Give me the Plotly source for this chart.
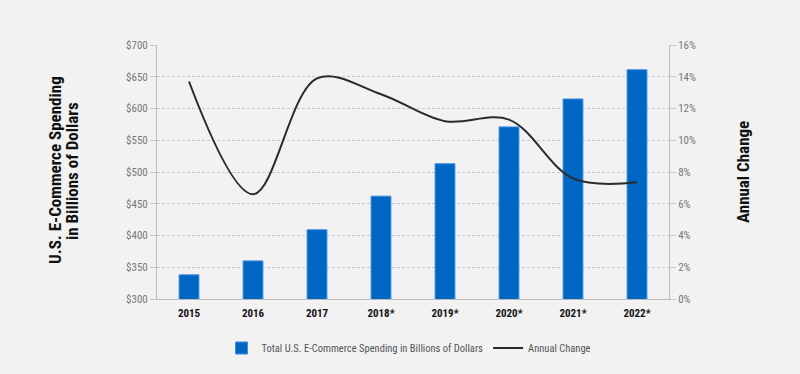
import plotly.graph_objects as go

years = ["2015", "2016", "2017", "2018*", "2019*", "2020*", "2021*", "2022*"]
spending = [338, 360, 409, 462, 513, 571, 615, 661]
annual_change = [13.7, 6.6, 13.9, 12.9, 11.2, 11.3, 7.6, 7.35]

bar_name = "Total U.S. E-Commerce Spending in Billions of Dollars"
line_name = "Annual Change"
left_title_lines = ["U.S. E-Commerce Spending", "in Billions of Dollars"]
right_title = "Annual Change"

FONT = "Roboto Condensed, Liberation Sans Narrow, Roboto, sans-serif"

fig = go.Figure()
fig.add_trace(go.Bar(
    x=years, y=spending, name=bar_name,
    marker=dict(color="#0066C4", line=dict(color="#3a8ee0", width=1)),
    width=0.31, yaxis="y",
))
fig.add_trace(go.Scatter(
    x=years, y=annual_change, name=line_name, mode="lines",
    line=dict(color="#2b2b2b", width=2, shape="spline", smoothing=1.0),
    yaxis="y2",
))

L, R, T, B = 157, 131, 45, 75
W, H = 800, 374
plot_w = W - L - R
plot_h = H - T - B

def px_to_paper(px, py):
    return (px - L) / plot_w, (H - B - py) / plot_h

a1x, a1y = px_to_paper(55, 170)
a2x, a2y = px_to_paper(72, 171)
bx, by = px_to_paper(743, 172)
lx, ly = px_to_paper(409, 348)

title_font = dict(family=FONT, size=17, color="#111111", weight="bold")
tickfont = dict(family=FONT, size=11, color="#777777")
fig.update_layout(
    width=W, height=H,
    paper_bgcolor="#f2f2f2", plot_bgcolor="#f2f2f2",
    margin=dict(l=L, r=R, t=T, b=B),
    bargap=0.69,
    showlegend=True,
    legend=dict(orientation="h", x=lx, xanchor="center", y=ly, yanchor="middle",
                font=dict(family=FONT, size=10.5, color="#555555"),
                bgcolor="rgba(0,0,0,0)", itemwidth=30),
    xaxis=dict(
        showgrid=False, showline=True, linecolor="#bbbbbb", linewidth=1,
        tickfont=dict(family=FONT, size=11, color="#111111", weight="bold"),
        ticks="outside", ticklen=4, tickcolor="rgba(0,0,0,0)", fixedrange=True,
    ),
    yaxis=dict(
        range=[300, 700], dtick=50, tickprefix="$",
        showgrid=True, gridcolor="#c8c8c8", griddash="3px,2px", gridwidth=1,
        showline=True, linecolor="#bbbbbb", linewidth=1,
        ticks="outside", ticklen=6, tickcolor="#c8c8c8",
        tickfont=tickfont, zeroline=False,
    ),
    yaxis2=dict(
        range=[0, 16], dtick=2, ticksuffix="%", overlaying="y", side="right",
        showgrid=False, showline=True, linecolor="#bbbbbb", linewidth=1,
        ticks="outside", ticklen=6, tickcolor="#c8c8c8",
        tickfont=tickfont, zeroline=False,
    ),
    annotations=[
        dict(text=left_title_lines[0], x=a1x, y=a1y, xref="paper", yref="paper",
             xanchor="center", yanchor="middle",
             showarrow=False, textangle=-90, font=title_font),
        dict(text=left_title_lines[1], x=a2x, y=a2y, xref="paper", yref="paper",
             xanchor="center", yanchor="middle",
             showarrow=False, textangle=-90, font=title_font),
        dict(text=right_title, x=bx, y=by, xref="paper", yref="paper",
             xanchor="center", yanchor="middle",
             showarrow=False, textangle=-90, font=title_font),
    ],
)

fig.write_html("out.html", config={"displayModeBar": False},
               post_script="document.body.style.margin='0';document.body.style.background='#f2f2f2';")
